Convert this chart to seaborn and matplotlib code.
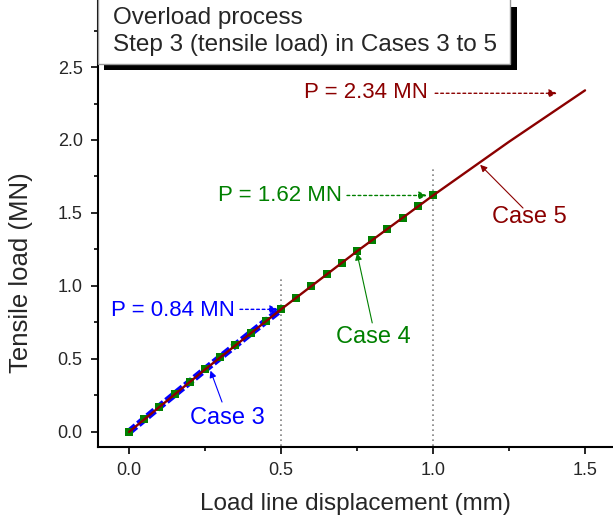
import matplotlib
matplotlib.use("Agg")
import matplotlib.pyplot as plt
import seaborn as sns
import pandas as pd
from matplotlib.patches import Rectangle
from matplotlib.ticker import MultipleLocator

# ---- data ----
case3_x = [0.0, 0.05, 0.10, 0.15, 0.20, 0.25, 0.30, 0.35, 0.40, 0.45, 0.50]
case3_p = [0.0, 0.087, 0.173, 0.258, 0.343, 0.428, 0.511, 0.594, 0.677, 0.759, 0.84]

case4_x = [0.0, 0.05, 0.10, 0.15, 0.20, 0.25, 0.30, 0.35, 0.40, 0.45, 0.50,
           0.55, 0.60, 0.65, 0.70, 0.75, 0.80, 0.85, 0.90, 0.95, 1.00]
case4_p = [0.0, 0.087, 0.173, 0.258, 0.343, 0.428, 0.511, 0.594, 0.677, 0.759, 0.84,
           0.921, 1.001, 1.080, 1.159, 1.238, 1.315, 1.392, 1.469, 1.545, 1.62]

case5_x = [0.0, 0.25, 0.50, 0.75, 1.00, 1.25, 1.50]
case5_p = [0.0, 0.428, 0.84, 1.238, 1.62, 1.988, 2.34]

ref_x = [0.5, 1.0]
ref_top = [1.05, 1.80]

title_lines = ["Overload process", "Step 3 (tensile load) in Cases 3 to 5"]
x_label = "Load line displacement (mm)"
y_label = "Tensile load (MN)"

BLUE = "#0000FF"
GREEN = "#008000"
DRED = "#8B0000"

sns.set_style("ticks")
plt.rcParams["font.family"] = ["Liberation Sans", "DejaVu Sans"]

W, H = 613, 519
fig = plt.figure(figsize=(W / 100, H / 100), dpi=100)
ax = fig.add_axes([98 / W, 1 - 447 / H, 1 - 98 / W, 447 / H])

d3 = pd.DataFrame({"x": case3_x, "p": case3_p})
d4 = pd.DataFrame({"x": case4_x, "p": case4_p})
d5 = pd.DataFrame({"x": case5_x, "p": case5_p})

for xv, top in zip(ref_x, ref_top):
    ax.plot([xv, xv], [-0.2, top], color="#808080", ls=(0, (1, 2)), lw=1.2, zorder=1)

sns.lineplot(data=d3, x="x", y="p", ax=ax, color=BLUE, zorder=2)
bl = ax.lines[-1]
bl.set_linewidth(5)
bl.set_dashes((1.3, 0.45))
bl.set_dash_capstyle("butt")
sns.scatterplot(data=d4, x="x", y="p", ax=ax, color=GREEN, marker="s",
                s=30, linewidth=0, zorder=3)
sns.lineplot(data=d5, x="x", y="p", ax=ax, color=DRED, zorder=4)
ax.lines[-1].set_linewidth(1.7)

ax.set_xlim(-0.102, 1.592)
ax.set_ylim(-0.103, 2.959)
ax.xaxis.set_major_locator(MultipleLocator(0.5))
ax.xaxis.set_minor_locator(MultipleLocator(0.25))
ax.yaxis.set_minor_locator(MultipleLocator(0.25))
ax.set_yticks([0.0, 0.5, 1.0, 1.5, 2.0, 2.5])
ax.xaxis.set_major_formatter(matplotlib.ticker.FormatStrFormatter("%.1f"))
ax.yaxis.set_major_formatter(matplotlib.ticker.FormatStrFormatter("%.1f"))
ax.tick_params(which="major", direction="out", length=5, width=1.2,
               labelsize=13, color="black", pad=6)
ax.tick_params(which="minor", direction="out", length=3, width=1.2, color="black")
for s in ["top", "right"]:
    ax.spines[s].set_visible(False)
for s in ["left", "bottom"]:
    ax.spines[s].set_linewidth(1.5)
    ax.spines[s].set_color("black")
ax.set_xlabel(x_label, fontsize=17.5, labelpad=10)
ax.set_ylabel(y_label, fontsize=18.5)
ax.yaxis.set_label_coords(-0.126, 0.391)

# P annotations
fs = 16
ax.text(0.349, 0.835, "P = 0.84 MN", color=BLUE, fontsize=fs, ha="right", va="center")
ax.annotate("", xy=(0.490, 0.84), xytext=(0.365, 0.84),
            arrowprops=dict(arrowstyle="-|>", color=BLUE, lw=1, ls=(0, (2, 2)),
                            mutation_scale=12, shrinkA=0, shrinkB=0))
ax.text(0.701, 1.623, "P = 1.62 MN", color=GREEN, fontsize=fs, ha="right", va="center")
ax.annotate("", xy=(0.980, 1.62), xytext=(0.717, 1.62),
            arrowprops=dict(arrowstyle="-|>", color=GREEN, lw=1, ls=(0, (2, 2)),
                            mutation_scale=12, shrinkA=0, shrinkB=0))
ax.text(0.984, 2.325, "P = 2.34 MN", color=DRED, fontsize=fs, ha="right", va="center")
ax.annotate("", xy=(1.408, 2.32), xytext=(1.007, 2.32),
            arrowprops=dict(arrowstyle="-|>", color=DRED, lw=1, ls=(0, (2, 2)),
                            mutation_scale=12, shrinkA=0, shrinkB=0))

# Case labels
cfs = 17
ax.text(0.322, 0.096, "Case 3", color=BLUE, fontsize=cfs, ha="center", va="center")
ax.annotate("", xy=(0.268, 0.42), xytext=(0.306, 0.205),
            arrowprops=dict(arrowstyle="-|>", color=BLUE, lw=0.8,
                            mutation_scale=10, shrinkA=0, shrinkB=0))
ax.text(0.803, 0.65, "Case 4", color=GREEN, fontsize=cfs, ha="center", va="center")
ax.annotate("", xy=(0.75, 1.225), xytext=(0.80, 0.747),
            arrowprops=dict(arrowstyle="-|>", color=GREEN, lw=0.8,
                            mutation_scale=10, shrinkA=0, shrinkB=0))
ax.text(1.316, 1.473, "Case 5", color=DRED, fontsize=cfs, ha="center", va="center")
ax.annotate("", xy=(1.155, 1.83), xytext=(1.296, 1.534),
            arrowprops=dict(arrowstyle="-|>", color=DRED, lw=0.8,
                            mutation_scale=10, shrinkA=0, shrinkB=0))

# Title box with shadow (figure pixel coords from top)
shadow = Rectangle((104 / W, 1 - 70 / H), (517 - 104) / W, (70 - 7) / H,
                   transform=fig.transFigure, facecolor="black", edgecolor="none",
                   zorder=5)
box = Rectangle((98 / W, 1 - 64 / H), (510 - 98) / W, 70 / H,
                transform=fig.transFigure, facecolor="white", edgecolor="#999999",
                lw=1, zorder=6)
fig.add_artist(shadow)
fig.add_artist(box)
fig.text(113 / W, 1 - 18 / H, title_lines[0], fontsize=17.5, ha="left", va="center", zorder=7)
fig.text(113 / W, 1 - 45 / H, title_lines[1], fontsize=17.5, ha="left", va="center", zorder=7)

fig.savefig("out.png", dpi=100)
